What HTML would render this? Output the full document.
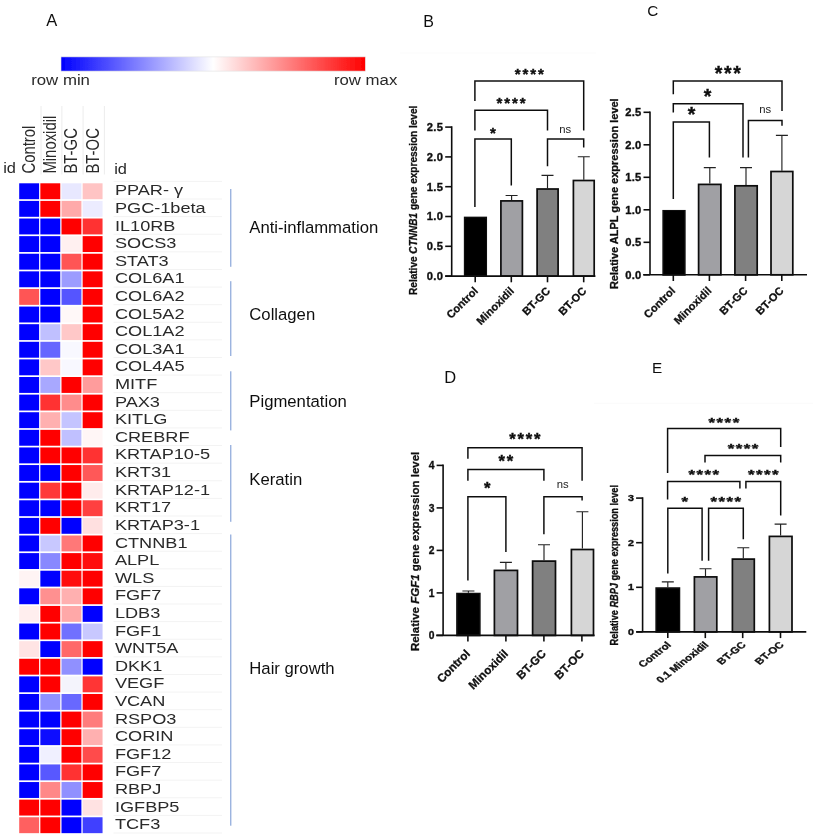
<!DOCTYPE html>
<html lang="en"><head><meta charset="utf-8"><title>Figure</title>
<style>
html,body{margin:0;padding:0;background:#fff;}
body{width:813px;height:839px;overflow:hidden;}
svg{display:block;font-family:"Liberation Sans", Arial, sans-serif;}
.hm{fill:#2a2a2a;font-size:14.5px;}
.cat{fill:#111;font-size:16.7px;}
.pl{fill:#111;font-size:16.5px;}
.tk{fill:#111;font-size:11.2px;font-weight:bold;text-anchor:end;stroke:#111;stroke-width:0.35px;letter-spacing:0.3px;}
.xl{fill:#111;font-size:11px;font-weight:bold;text-anchor:end;stroke:#111;stroke-width:0.3px;}
.yl{fill:#111;font-size:10.05px;font-weight:bold;stroke:#111;stroke-width:0.3px;}
.st{fill:#111;font-size:16px;font-weight:bold;text-anchor:middle;stroke:#111;stroke-width:0.4px;}
.ns{fill:#222;font-size:11.3px;text-anchor:middle;}
.ax{stroke:#111;stroke-width:1.6;fill:none;}
.br{stroke:#111;stroke-width:1.5;fill:none;}
.er{stroke:#222;stroke-width:1.15;fill:none;}
.bar{stroke:#0a0a0a;stroke-width:1.7;}
</style></head><body>
<svg width="813" height="839" viewBox="0 0 813 839">
<defs><linearGradient id="g" x1="0" x2="1" y1="0" y2="0"><stop offset="0" stop-color="#0000ff"/><stop offset="0.5" stop-color="#ffffff"/><stop offset="1" stop-color="#ff0000"/></linearGradient></defs>
<rect x="0" y="0" width="813" height="839" fill="#ffffff"/>
<filter id="soft" x="0" y="0" width="813" height="839" filterUnits="userSpaceOnUse"><feGaussianBlur stdDeviation="0.55"/></filter>
<g filter="url(#soft)">
<rect x="0" y="0" width="813" height="839" fill="#ffffff"/>
<text class="pl" x="46.3" y="26">A</text>
<rect x="61" y="56.9" width="304.3" height="14.2" fill="url(#g)" stroke="#e2e2e2" stroke-width="0.6"/>
<text class="hm" style="font-size:15px" transform="translate(31.2,84.6) scale(1.12,1)" x="0" y="0">row min</text>
<text class="hm" style="font-size:15px;text-anchor:end" transform="translate(397.3,84.6) scale(1.12,1)" x="0" y="0">row max</text>
<line x1="41.0" y1="106" x2="41.0" y2="174.5" stroke="#ececec" stroke-width="1"/>
<line x1="61.9" y1="106" x2="61.9" y2="174.5" stroke="#ececec" stroke-width="1"/>
<line x1="83.1" y1="106" x2="83.1" y2="174.5" stroke="#ececec" stroke-width="1"/>
<line x1="104.4" y1="106" x2="104.4" y2="174.5" stroke="#ececec" stroke-width="1"/>
<text class="hm" style="font-size:14.9px" transform="translate(35.2,173.6) rotate(-90) scale(1,1.24)" x="0" y="0">Control</text>
<text class="hm" style="font-size:14.9px" transform="translate(56.3,173.6) rotate(-90) scale(1,1.24)" x="0" y="0">Minoxidil</text>
<text class="hm" style="font-size:14.9px" transform="translate(77.4,173.6) rotate(-90) scale(1,1.24)" x="0" y="0">BT-GC</text>
<text class="hm" style="font-size:14.9px" transform="translate(98.5,173.6) rotate(-90) scale(1,1.24)" x="0" y="0">BT-OC</text>
<text class="hm" style="font-size:14.9px" transform="translate(3.2,172.9) scale(1.1,1)" x="0" y="0">id</text>
<text class="hm" style="font-size:14.9px" transform="translate(114.2,173.5) scale(1.1,1)" x="0" y="0">id</text>
<rect x="19.20" y="183.30" width="19.90" height="15.90" fill="#0000ff"/>
<rect x="40.35" y="183.30" width="19.90" height="15.90" fill="#ff0000"/>
<rect x="61.50" y="183.30" width="19.90" height="15.90" fill="#e8e8ff"/>
<rect x="82.65" y="183.30" width="19.90" height="15.90" fill="#ffc4c4"/>
<line x1="113.5" y1="181.40" x2="222" y2="181.40" stroke="#f3f3f3" stroke-width="1"/>
<text class="hm" transform="translate(114.9,195.30) scale(1.253,1)" x="0" y="0">PPAR- γ</text>
<rect x="19.20" y="200.91" width="19.90" height="15.90" fill="#0000ff"/>
<rect x="40.35" y="200.91" width="19.90" height="15.90" fill="#ff0000"/>
<rect x="61.50" y="200.91" width="19.90" height="15.90" fill="#ffaaaa"/>
<rect x="82.65" y="200.91" width="19.90" height="15.90" fill="#ececff"/>
<line x1="113.5" y1="199.01" x2="222" y2="199.01" stroke="#f3f3f3" stroke-width="1"/>
<text class="hm" transform="translate(114.9,212.91) scale(1.253,1)" x="0" y="0">PGC-1beta</text>
<rect x="19.20" y="218.52" width="19.90" height="15.90" fill="#0000ff"/>
<rect x="40.35" y="218.52" width="19.90" height="15.90" fill="#0000ff"/>
<rect x="61.50" y="218.52" width="19.90" height="15.90" fill="#ff0000"/>
<rect x="82.65" y="218.52" width="19.90" height="15.90" fill="#ff3333"/>
<line x1="113.5" y1="216.62" x2="222" y2="216.62" stroke="#f3f3f3" stroke-width="1"/>
<text class="hm" transform="translate(114.9,230.52) scale(1.253,1)" x="0" y="0">IL10RB</text>
<rect x="19.20" y="236.13" width="19.90" height="15.90" fill="#0000ff"/>
<rect x="40.35" y="236.13" width="19.90" height="15.90" fill="#0000ff"/>
<rect x="61.50" y="236.13" width="19.90" height="15.90" fill="#fff0f0"/>
<rect x="82.65" y="236.13" width="19.90" height="15.90" fill="#ff0000"/>
<line x1="113.5" y1="234.23" x2="222" y2="234.23" stroke="#f3f3f3" stroke-width="1"/>
<text class="hm" transform="translate(114.9,248.13) scale(1.253,1)" x="0" y="0">SOCS3</text>
<rect x="19.20" y="253.74" width="19.90" height="15.90" fill="#0000ff"/>
<rect x="40.35" y="253.74" width="19.90" height="15.90" fill="#0000ff"/>
<rect x="61.50" y="253.74" width="19.90" height="15.90" fill="#ff5555"/>
<rect x="82.65" y="253.74" width="19.90" height="15.90" fill="#ff0000"/>
<line x1="113.5" y1="251.84" x2="222" y2="251.84" stroke="#f3f3f3" stroke-width="1"/>
<text class="hm" transform="translate(114.9,265.74) scale(1.253,1)" x="0" y="0">STAT3</text>
<rect x="19.20" y="271.35" width="19.90" height="15.90" fill="#0000ff"/>
<rect x="40.35" y="271.35" width="19.90" height="15.90" fill="#0000ff"/>
<rect x="61.50" y="271.35" width="19.90" height="15.90" fill="#9c9cff"/>
<rect x="82.65" y="271.35" width="19.90" height="15.90" fill="#ff0000"/>
<line x1="113.5" y1="269.45" x2="222" y2="269.45" stroke="#f3f3f3" stroke-width="1"/>
<text class="hm" transform="translate(114.9,283.35) scale(1.253,1)" x="0" y="0">COL6A1</text>
<rect x="19.20" y="288.96" width="19.90" height="15.90" fill="#ff5555"/>
<rect x="40.35" y="288.96" width="19.90" height="15.90" fill="#0000ff"/>
<rect x="61.50" y="288.96" width="19.90" height="15.90" fill="#5555ff"/>
<rect x="82.65" y="288.96" width="19.90" height="15.90" fill="#ff0000"/>
<line x1="113.5" y1="287.06" x2="222" y2="287.06" stroke="#f3f3f3" stroke-width="1"/>
<text class="hm" transform="translate(114.9,300.96) scale(1.253,1)" x="0" y="0">COL6A2</text>
<rect x="19.20" y="306.57" width="19.90" height="15.90" fill="#0000ff"/>
<rect x="40.35" y="306.57" width="19.90" height="15.90" fill="#0000ff"/>
<rect x="61.50" y="306.57" width="19.90" height="15.90" fill="#fff8f8"/>
<rect x="82.65" y="306.57" width="19.90" height="15.90" fill="#ff0000"/>
<line x1="113.5" y1="304.67" x2="222" y2="304.67" stroke="#f3f3f3" stroke-width="1"/>
<text class="hm" transform="translate(114.9,318.57) scale(1.253,1)" x="0" y="0">COL5A2</text>
<rect x="19.20" y="324.18" width="19.90" height="15.90" fill="#0000ff"/>
<rect x="40.35" y="324.18" width="19.90" height="15.90" fill="#c0c0ff"/>
<rect x="61.50" y="324.18" width="19.90" height="15.90" fill="#ffc8c8"/>
<rect x="82.65" y="324.18" width="19.90" height="15.90" fill="#ff0000"/>
<line x1="113.5" y1="322.28" x2="222" y2="322.28" stroke="#f3f3f3" stroke-width="1"/>
<text class="hm" transform="translate(114.9,336.18) scale(1.253,1)" x="0" y="0">COL1A2</text>
<rect x="19.20" y="341.79" width="19.90" height="15.90" fill="#0000ff"/>
<rect x="40.35" y="341.79" width="19.90" height="15.90" fill="#6666ff"/>
<rect x="61.50" y="341.79" width="19.90" height="15.90" fill="#f8f8ff"/>
<rect x="82.65" y="341.79" width="19.90" height="15.90" fill="#ff0000"/>
<line x1="113.5" y1="339.89" x2="222" y2="339.89" stroke="#f3f3f3" stroke-width="1"/>
<text class="hm" transform="translate(114.9,353.79) scale(1.253,1)" x="0" y="0">COL3A1</text>
<rect x="19.20" y="359.40" width="19.90" height="15.90" fill="#0000ff"/>
<rect x="40.35" y="359.40" width="19.90" height="15.90" fill="#ffc8c8"/>
<rect x="61.50" y="359.40" width="19.90" height="15.90" fill="#f8f8ff"/>
<rect x="82.65" y="359.40" width="19.90" height="15.90" fill="#ff0000"/>
<line x1="113.5" y1="357.50" x2="222" y2="357.50" stroke="#f3f3f3" stroke-width="1"/>
<text class="hm" transform="translate(114.9,371.40) scale(1.253,1)" x="0" y="0">COL4A5</text>
<rect x="19.20" y="377.01" width="19.90" height="15.90" fill="#0000ff"/>
<rect x="40.35" y="377.01" width="19.90" height="15.90" fill="#a8a8ff"/>
<rect x="61.50" y="377.01" width="19.90" height="15.90" fill="#ff0000"/>
<rect x="82.65" y="377.01" width="19.90" height="15.90" fill="#ff9c9c"/>
<line x1="113.5" y1="375.11" x2="222" y2="375.11" stroke="#f3f3f3" stroke-width="1"/>
<text class="hm" transform="translate(114.9,389.01) scale(1.253,1)" x="0" y="0">MITF</text>
<rect x="19.20" y="394.62" width="19.90" height="15.90" fill="#0000ff"/>
<rect x="40.35" y="394.62" width="19.90" height="15.90" fill="#ff3333"/>
<rect x="61.50" y="394.62" width="19.90" height="15.90" fill="#ff8c8c"/>
<rect x="82.65" y="394.62" width="19.90" height="15.90" fill="#ff0000"/>
<line x1="113.5" y1="392.72" x2="222" y2="392.72" stroke="#f3f3f3" stroke-width="1"/>
<text class="hm" transform="translate(114.9,406.62) scale(1.253,1)" x="0" y="0">PAX3</text>
<rect x="19.20" y="412.23" width="19.90" height="15.90" fill="#0000ff"/>
<rect x="40.35" y="412.23" width="19.90" height="15.90" fill="#ffb0b0"/>
<rect x="61.50" y="412.23" width="19.90" height="15.90" fill="#c4c4ff"/>
<rect x="82.65" y="412.23" width="19.90" height="15.90" fill="#ff0000"/>
<line x1="113.5" y1="410.33" x2="222" y2="410.33" stroke="#f3f3f3" stroke-width="1"/>
<text class="hm" transform="translate(114.9,424.23) scale(1.253,1)" x="0" y="0">KITLG</text>
<rect x="19.20" y="429.84" width="19.90" height="15.90" fill="#0000ff"/>
<rect x="40.35" y="429.84" width="19.90" height="15.90" fill="#ff0000"/>
<rect x="61.50" y="429.84" width="19.90" height="15.90" fill="#c0c0ff"/>
<rect x="82.65" y="429.84" width="19.90" height="15.90" fill="#fff6f6"/>
<line x1="113.5" y1="427.94" x2="222" y2="427.94" stroke="#f3f3f3" stroke-width="1"/>
<text class="hm" transform="translate(114.9,441.84) scale(1.253,1)" x="0" y="0">CREBRF</text>
<rect x="19.20" y="447.45" width="19.90" height="15.90" fill="#0000ff"/>
<rect x="40.35" y="447.45" width="19.90" height="15.90" fill="#ff0000"/>
<rect x="61.50" y="447.45" width="19.90" height="15.90" fill="#ff0000"/>
<rect x="82.65" y="447.45" width="19.90" height="15.90" fill="#ff3333"/>
<line x1="113.5" y1="445.55" x2="222" y2="445.55" stroke="#f3f3f3" stroke-width="1"/>
<text class="hm" transform="translate(114.9,459.45) scale(1.253,1)" x="0" y="0">KRTAP10-5</text>
<rect x="19.20" y="465.06" width="19.90" height="15.90" fill="#0000ff"/>
<rect x="40.35" y="465.06" width="19.90" height="15.90" fill="#0000ff"/>
<rect x="61.50" y="465.06" width="19.90" height="15.90" fill="#ff0000"/>
<rect x="82.65" y="465.06" width="19.90" height="15.90" fill="#ff5858"/>
<line x1="113.5" y1="463.16" x2="222" y2="463.16" stroke="#f3f3f3" stroke-width="1"/>
<text class="hm" transform="translate(114.9,477.06) scale(1.253,1)" x="0" y="0">KRT31</text>
<rect x="19.20" y="482.67" width="19.90" height="15.90" fill="#0000ff"/>
<rect x="40.35" y="482.67" width="19.90" height="15.90" fill="#ff3838"/>
<rect x="61.50" y="482.67" width="19.90" height="15.90" fill="#ff0000"/>
<rect x="82.65" y="482.67" width="19.90" height="15.90" fill="#ffecec"/>
<line x1="113.5" y1="480.77" x2="222" y2="480.77" stroke="#f3f3f3" stroke-width="1"/>
<text class="hm" transform="translate(114.9,494.67) scale(1.253,1)" x="0" y="0">KRTAP12-1</text>
<rect x="19.20" y="500.28" width="19.90" height="15.90" fill="#0000ff"/>
<rect x="40.35" y="500.28" width="19.90" height="15.90" fill="#0000ff"/>
<rect x="61.50" y="500.28" width="19.90" height="15.90" fill="#ff0000"/>
<rect x="82.65" y="500.28" width="19.90" height="15.90" fill="#ff4040"/>
<line x1="113.5" y1="498.38" x2="222" y2="498.38" stroke="#f3f3f3" stroke-width="1"/>
<text class="hm" transform="translate(114.9,512.28) scale(1.253,1)" x="0" y="0">KRT17</text>
<rect x="19.20" y="517.89" width="19.90" height="15.90" fill="#0000ff"/>
<rect x="40.35" y="517.89" width="19.90" height="15.90" fill="#ff0000"/>
<rect x="61.50" y="517.89" width="19.90" height="15.90" fill="#0000ff"/>
<rect x="82.65" y="517.89" width="19.90" height="15.90" fill="#ffe0e0"/>
<line x1="113.5" y1="515.99" x2="222" y2="515.99" stroke="#f3f3f3" stroke-width="1"/>
<text class="hm" transform="translate(114.9,529.89) scale(1.253,1)" x="0" y="0">KRTAP3-1</text>
<rect x="19.20" y="535.50" width="19.90" height="15.90" fill="#0000ff"/>
<rect x="40.35" y="535.50" width="19.90" height="15.90" fill="#c8c8ff"/>
<rect x="61.50" y="535.50" width="19.90" height="15.90" fill="#ff7878"/>
<rect x="82.65" y="535.50" width="19.90" height="15.90" fill="#ff0000"/>
<line x1="113.5" y1="533.60" x2="222" y2="533.60" stroke="#f3f3f3" stroke-width="1"/>
<text class="hm" transform="translate(114.9,547.50) scale(1.253,1)" x="0" y="0">CTNNB1</text>
<rect x="19.20" y="553.11" width="19.90" height="15.90" fill="#0000ff"/>
<rect x="40.35" y="553.11" width="19.90" height="15.90" fill="#8888ff"/>
<rect x="61.50" y="553.11" width="19.90" height="15.90" fill="#ff0000"/>
<rect x="82.65" y="553.11" width="19.90" height="15.90" fill="#ff0808"/>
<line x1="113.5" y1="551.21" x2="222" y2="551.21" stroke="#f3f3f3" stroke-width="1"/>
<text class="hm" transform="translate(114.9,565.11) scale(1.253,1)" x="0" y="0">ALPL</text>
<rect x="19.20" y="570.72" width="19.90" height="15.90" fill="#fff4f4"/>
<rect x="40.35" y="570.72" width="19.90" height="15.90" fill="#0000ff"/>
<rect x="61.50" y="570.72" width="19.90" height="15.90" fill="#ff0808"/>
<rect x="82.65" y="570.72" width="19.90" height="15.90" fill="#ff0000"/>
<line x1="113.5" y1="568.82" x2="222" y2="568.82" stroke="#f3f3f3" stroke-width="1"/>
<text class="hm" transform="translate(114.9,582.72) scale(1.253,1)" x="0" y="0">WLS</text>
<rect x="19.20" y="588.33" width="19.90" height="15.90" fill="#0000ff"/>
<rect x="40.35" y="588.33" width="19.90" height="15.90" fill="#ff9090"/>
<rect x="61.50" y="588.33" width="19.90" height="15.90" fill="#ffb0b0"/>
<rect x="82.65" y="588.33" width="19.90" height="15.90" fill="#ff0000"/>
<line x1="113.5" y1="586.43" x2="222" y2="586.43" stroke="#f3f3f3" stroke-width="1"/>
<text class="hm" transform="translate(114.9,600.33) scale(1.253,1)" x="0" y="0">FGF7</text>
<rect x="19.20" y="605.94" width="19.90" height="15.90" fill="#ffeeee"/>
<rect x="40.35" y="605.94" width="19.90" height="15.90" fill="#ff0000"/>
<rect x="61.50" y="605.94" width="19.90" height="15.90" fill="#ffa8a8"/>
<rect x="82.65" y="605.94" width="19.90" height="15.90" fill="#0000ff"/>
<line x1="113.5" y1="604.04" x2="222" y2="604.04" stroke="#f3f3f3" stroke-width="1"/>
<text class="hm" transform="translate(114.9,617.94) scale(1.253,1)" x="0" y="0">LDB3</text>
<rect x="19.20" y="623.55" width="19.90" height="15.90" fill="#0000ff"/>
<rect x="40.35" y="623.55" width="19.90" height="15.90" fill="#ff0000"/>
<rect x="61.50" y="623.55" width="19.90" height="15.90" fill="#7070ff"/>
<rect x="82.65" y="623.55" width="19.90" height="15.90" fill="#c8c8ff"/>
<line x1="113.5" y1="621.65" x2="222" y2="621.65" stroke="#f3f3f3" stroke-width="1"/>
<text class="hm" transform="translate(114.9,635.55) scale(1.253,1)" x="0" y="0">FGF1</text>
<rect x="19.20" y="641.16" width="19.90" height="15.90" fill="#ffe4e4"/>
<rect x="40.35" y="641.16" width="19.90" height="15.90" fill="#0000ff"/>
<rect x="61.50" y="641.16" width="19.90" height="15.90" fill="#ff6868"/>
<rect x="82.65" y="641.16" width="19.90" height="15.90" fill="#ff0000"/>
<line x1="113.5" y1="639.26" x2="222" y2="639.26" stroke="#f3f3f3" stroke-width="1"/>
<text class="hm" transform="translate(114.9,653.16) scale(1.253,1)" x="0" y="0">WNT5A</text>
<rect x="19.20" y="658.77" width="19.90" height="15.90" fill="#ff0000"/>
<rect x="40.35" y="658.77" width="19.90" height="15.90" fill="#ff0000"/>
<rect x="61.50" y="658.77" width="19.90" height="15.90" fill="#9090ff"/>
<rect x="82.65" y="658.77" width="19.90" height="15.90" fill="#0000ff"/>
<line x1="113.5" y1="656.87" x2="222" y2="656.87" stroke="#f3f3f3" stroke-width="1"/>
<text class="hm" transform="translate(114.9,670.77) scale(1.253,1)" x="0" y="0">DKK1</text>
<rect x="19.20" y="676.38" width="19.90" height="15.90" fill="#0000ff"/>
<rect x="40.35" y="676.38" width="19.90" height="15.90" fill="#ff0000"/>
<rect x="61.50" y="676.38" width="19.90" height="15.90" fill="#f4f4fc"/>
<rect x="82.65" y="676.38" width="19.90" height="15.90" fill="#ff3434"/>
<line x1="113.5" y1="674.48" x2="222" y2="674.48" stroke="#f3f3f3" stroke-width="1"/>
<text class="hm" transform="translate(114.9,688.38) scale(1.253,1)" x="0" y="0">VEGF</text>
<rect x="19.20" y="693.99" width="19.90" height="15.90" fill="#0000ff"/>
<rect x="40.35" y="693.99" width="19.90" height="15.90" fill="#9090ff"/>
<rect x="61.50" y="693.99" width="19.90" height="15.90" fill="#6868ff"/>
<rect x="82.65" y="693.99" width="19.90" height="15.90" fill="#ff0000"/>
<line x1="113.5" y1="692.09" x2="222" y2="692.09" stroke="#f3f3f3" stroke-width="1"/>
<text class="hm" transform="translate(114.9,705.99) scale(1.253,1)" x="0" y="0">VCAN</text>
<rect x="19.20" y="711.60" width="19.90" height="15.90" fill="#0000ff"/>
<rect x="40.35" y="711.60" width="19.90" height="15.90" fill="#0000ff"/>
<rect x="61.50" y="711.60" width="19.90" height="15.90" fill="#ff0000"/>
<rect x="82.65" y="711.60" width="19.90" height="15.90" fill="#ff7c7c"/>
<line x1="113.5" y1="709.70" x2="222" y2="709.70" stroke="#f3f3f3" stroke-width="1"/>
<text class="hm" transform="translate(114.9,723.60) scale(1.253,1)" x="0" y="0">RSPO3</text>
<rect x="19.20" y="729.21" width="19.90" height="15.90" fill="#0000ff"/>
<rect x="40.35" y="729.21" width="19.90" height="15.90" fill="#0808ff"/>
<rect x="61.50" y="729.21" width="19.90" height="15.90" fill="#ff0000"/>
<rect x="82.65" y="729.21" width="19.90" height="15.90" fill="#ffb0b0"/>
<line x1="113.5" y1="727.31" x2="222" y2="727.31" stroke="#f3f3f3" stroke-width="1"/>
<text class="hm" transform="translate(114.9,741.21) scale(1.253,1)" x="0" y="0">CORIN</text>
<rect x="19.20" y="746.82" width="19.90" height="15.90" fill="#0000ff"/>
<rect x="40.35" y="746.82" width="19.90" height="15.90" fill="#f0f0ff"/>
<rect x="61.50" y="746.82" width="19.90" height="15.90" fill="#ff0000"/>
<rect x="82.65" y="746.82" width="19.90" height="15.90" fill="#ff4c4c"/>
<line x1="113.5" y1="744.92" x2="222" y2="744.92" stroke="#f3f3f3" stroke-width="1"/>
<text class="hm" transform="translate(114.9,758.82) scale(1.253,1)" x="0" y="0">FGF12</text>
<rect x="19.20" y="764.43" width="19.90" height="15.90" fill="#0000ff"/>
<rect x="40.35" y="764.43" width="19.90" height="15.90" fill="#5858ff"/>
<rect x="61.50" y="764.43" width="19.90" height="15.90" fill="#ff3030"/>
<rect x="82.65" y="764.43" width="19.90" height="15.90" fill="#ff0000"/>
<line x1="113.5" y1="762.53" x2="222" y2="762.53" stroke="#f3f3f3" stroke-width="1"/>
<text class="hm" transform="translate(114.9,776.43) scale(1.253,1)" x="0" y="0">FGF7</text>
<rect x="19.20" y="782.04" width="19.90" height="15.90" fill="#0000ff"/>
<rect x="40.35" y="782.04" width="19.90" height="15.90" fill="#ff8888"/>
<rect x="61.50" y="782.04" width="19.90" height="15.90" fill="#9090ff"/>
<rect x="82.65" y="782.04" width="19.90" height="15.90" fill="#ff0000"/>
<line x1="113.5" y1="780.14" x2="222" y2="780.14" stroke="#f3f3f3" stroke-width="1"/>
<text class="hm" transform="translate(114.9,794.04) scale(1.253,1)" x="0" y="0">RBPJ</text>
<rect x="19.20" y="799.65" width="19.90" height="15.90" fill="#ff0000"/>
<rect x="40.35" y="799.65" width="19.90" height="15.90" fill="#ff0000"/>
<rect x="61.50" y="799.65" width="19.90" height="15.90" fill="#0000ff"/>
<rect x="82.65" y="799.65" width="19.90" height="15.90" fill="#ffe2e2"/>
<line x1="113.5" y1="797.75" x2="222" y2="797.75" stroke="#f3f3f3" stroke-width="1"/>
<text class="hm" transform="translate(114.9,811.65) scale(1.253,1)" x="0" y="0">IGFBP5</text>
<rect x="19.20" y="817.26" width="19.90" height="15.90" fill="#ff6060"/>
<rect x="40.35" y="817.26" width="19.90" height="15.90" fill="#ff0000"/>
<rect x="61.50" y="817.26" width="19.90" height="15.90" fill="#0000ff"/>
<rect x="82.65" y="817.26" width="19.90" height="15.90" fill="#4040ff"/>
<line x1="113.5" y1="815.36" x2="222" y2="815.36" stroke="#f3f3f3" stroke-width="1"/>
<text class="hm" transform="translate(114.9,829.26) scale(1.253,1)" x="0" y="0">TCF3</text>
<line x1="113.5" y1="832.97" x2="222" y2="832.97" stroke="#f3f3f3" stroke-width="1"/>
<line x1="230.8" y1="189.0" x2="230.8" y2="266.8" stroke="#6a8fd0" stroke-width="0.95"/>
<text class="cat" x="249.3" y="233.0">Anti-inflammation</text>
<line x1="230.8" y1="281.2" x2="230.8" y2="356.0" stroke="#6a8fd0" stroke-width="0.95"/>
<text class="cat" x="249.3" y="319.8">Collagen</text>
<line x1="230.8" y1="371.3" x2="230.8" y2="430.4" stroke="#6a8fd0" stroke-width="0.95"/>
<text class="cat" x="249.3" y="406.6">Pigmentation</text>
<line x1="230.8" y1="445.0" x2="230.8" y2="521.8" stroke="#6a8fd0" stroke-width="0.95"/>
<text class="cat" x="249.3" y="484.6">Keratin</text>
<line x1="230.8" y1="534.5" x2="230.8" y2="825.7" stroke="#6a8fd0" stroke-width="0.95"/>
<text class="cat" x="249.3" y="674.4">Hair growth</text>
<line x1="594" y1="403.3" x2="813" y2="403.3" stroke="#fafafa" stroke-width="1"/>
<line x1="400" y1="53" x2="596" y2="53" stroke="#fbfbfb" stroke-width="1"/>
<text class="pl" style="font-size:16px" x="423.2" y="26.8">B</text>
<text class="yl" style="font-size:10.05px" text-anchor="middle" transform="translate(417.3,200.3) rotate(-90) scale(1.000,1.000)" x="0" y="0" xml:space="preserve"><tspan font-style="normal">Relative </tspan><tspan font-style="italic">CTNNB1</tspan><tspan font-style="normal"> gene expression level</tspan></text>
<rect class="bar" style="stroke-width:1.70" x="464.7" y="217.5" width="21.5" height="58.6" fill="#000000"/>
<path class="er" d="M511.6 200.1V195.5M505.6 195.5H517.6"/>
<rect class="bar" style="stroke-width:1.70" x="500.9" y="200.9" width="21.5" height="75.2" fill="#a0a0a4"/>
<path class="er" d="M547.5 188.2V175.3M541.5 175.3H553.5"/>
<rect class="bar" style="stroke-width:1.70" x="537.1" y="189.0" width="21.0" height="87.1" fill="#808080"/>
<path class="er" d="M583.8 179.7V156.7M577.8 156.7H589.8"/>
<rect class="bar" style="stroke-width:1.70" x="573.4" y="180.5" width="20.8" height="95.6" fill="#d6d6d6"/>
<path class="ax" d="M451.7 126.3V276.9M445.2 276.1H595.4"/>
<line class="ax" x1="445.2" y1="276.1" x2="451.7" y2="276.1"/>
<text class="tk" style="font-size:11.20px" transform="translate(443.3,280.0) scale(1.000,1)" x="0" y="0">0.0</text>
<line class="ax" x1="445.2" y1="246.3" x2="451.7" y2="246.3"/>
<text class="tk" style="font-size:11.20px" transform="translate(443.3,250.2) scale(1.000,1)" x="0" y="0">0.5</text>
<line class="ax" x1="445.2" y1="216.5" x2="451.7" y2="216.5"/>
<text class="tk" style="font-size:11.20px" transform="translate(443.3,220.4) scale(1.000,1)" x="0" y="0">1.0</text>
<line class="ax" x1="445.2" y1="186.7" x2="451.7" y2="186.7"/>
<text class="tk" style="font-size:11.20px" transform="translate(443.3,190.6) scale(1.000,1)" x="0" y="0">1.5</text>
<line class="ax" x1="445.2" y1="156.9" x2="451.7" y2="156.9"/>
<text class="tk" style="font-size:11.20px" transform="translate(443.3,160.8) scale(1.000,1)" x="0" y="0">2.0</text>
<line class="ax" x1="445.2" y1="127.1" x2="451.7" y2="127.1"/>
<text class="tk" style="font-size:11.20px" transform="translate(443.3,131.0) scale(1.000,1)" x="0" y="0">2.5</text>
<line class="ax" x1="475.2" y1="276.1" x2="475.2" y2="282.3"/>
<text class="xl" style="font-size:11.00px" transform="translate(478.6,291.7) scale(1.000,1.000) rotate(-45)" x="0" y="0">Control</text>
<line class="ax" x1="511.3" y1="276.1" x2="511.3" y2="282.3"/>
<text class="xl" style="font-size:11.00px" transform="translate(514.7,291.7) scale(1.000,1.000) rotate(-45)" x="0" y="0">Minoxidil</text>
<line class="ax" x1="547.5" y1="276.1" x2="547.5" y2="282.3"/>
<text class="xl" style="font-size:11.00px" transform="translate(550.9,291.7) scale(1.000,1.000) rotate(-45)" x="0" y="0">BT-GC</text>
<line class="ax" x1="583.7" y1="276.1" x2="583.7" y2="282.3"/>
<text class="xl" style="font-size:11.00px" transform="translate(587.1,291.7) scale(1.000,1.000) rotate(-45)" x="0" y="0">BT-OC</text>
<path class="br" d="M474.9 100.9V81.0H583.7V130.6"/>
<text class="st" style="font-size:15.0px;letter-spacing:1.90px" transform="translate(529.2,78.9) scale(1.000,1.000)" x="0.95" y="0">****</text>
<path class="br" d="M474.9 130.6V110.2H547.5V130.6"/>
<text class="st" style="font-size:15.0px;letter-spacing:1.90px" transform="translate(511.0,108.4) scale(1.000,1.000)" x="0.95" y="0">****</text>
<path class="br" d="M474.9 207.1V139.1H511.3V185.6"/>
<text class="st" style="font-size:15.0px;letter-spacing:1.90px" transform="translate(493.0,137.5) scale(1.000,1.000)" x="0.95" y="0">*</text>
<path class="br" d="M547.5 166.2V139.1H583.7V147.6"/>
<text class="ns" x="565.3" y="132.8">ns</text>
<text class="pl" style="font-size:15.3px" x="647.2" y="16.2">C</text>
<text class="yl" style="font-size:11.00px" text-anchor="middle" transform="translate(617.8,193.7) rotate(-90) scale(1.000,1.000)" x="0" y="0" xml:space="preserve"><tspan font-style="normal">Relative ALPL gene expression level</tspan></text>
<rect class="bar" style="stroke-width:1.70" x="663.2" y="210.8" width="21.6" height="64.1" fill="#000000"/>
<path class="er" d="M709.8 183.6V167.6M703.8 167.6H715.8"/>
<rect class="bar" style="stroke-width:1.70" x="698.6" y="184.4" width="22.3" height="90.4" fill="#a0a0a4"/>
<path class="er" d="M746.0 184.9V167.6M740.0 167.6H752.0"/>
<rect class="bar" style="stroke-width:1.70" x="734.9" y="185.8" width="22.3" height="89.1" fill="#808080"/>
<path class="er" d="M781.9 170.7V135.4M775.9 135.4H787.9"/>
<rect class="bar" style="stroke-width:1.70" x="771.0" y="171.5" width="21.8" height="103.3" fill="#d6d6d6"/>
<path class="ax" d="M650.0 111.5V275.6M643.2 274.8H807.0"/>
<line class="ax" x1="643.5" y1="274.8" x2="650.0" y2="274.8"/>
<text class="tk" style="font-size:11.20px" transform="translate(641.6,278.7) scale(1.000,1)" x="0" y="0">0.0</text>
<line class="ax" x1="643.5" y1="242.3" x2="650.0" y2="242.3"/>
<text class="tk" style="font-size:11.20px" transform="translate(641.6,246.2) scale(1.000,1)" x="0" y="0">0.5</text>
<line class="ax" x1="643.5" y1="209.8" x2="650.0" y2="209.8"/>
<text class="tk" style="font-size:11.20px" transform="translate(641.6,213.7) scale(1.000,1)" x="0" y="0">1.0</text>
<line class="ax" x1="643.5" y1="177.3" x2="650.0" y2="177.3"/>
<text class="tk" style="font-size:11.20px" transform="translate(641.6,181.2) scale(1.000,1)" x="0" y="0">1.5</text>
<line class="ax" x1="643.5" y1="144.8" x2="650.0" y2="144.8"/>
<text class="tk" style="font-size:11.20px" transform="translate(641.6,148.7) scale(1.000,1)" x="0" y="0">2.0</text>
<line class="ax" x1="643.5" y1="112.3" x2="650.0" y2="112.3"/>
<text class="tk" style="font-size:11.20px" transform="translate(641.6,116.2) scale(1.000,1)" x="0" y="0">2.5</text>
<line class="ax" x1="673.3" y1="274.8" x2="673.3" y2="281.0"/>
<text class="xl" style="font-size:11.00px" transform="translate(676.0,291.3) scale(1.000,1.000) rotate(-45)" x="0" y="0">Control</text>
<line class="ax" x1="709.4" y1="274.8" x2="709.4" y2="281.0"/>
<text class="xl" style="font-size:11.00px" transform="translate(712.1,291.3) scale(1.000,1.000) rotate(-45)" x="0" y="0">Minoxidil</text>
<line class="ax" x1="745.6" y1="274.8" x2="745.6" y2="281.0"/>
<text class="xl" style="font-size:11.00px" transform="translate(748.3,291.3) scale(1.000,1.000) rotate(-45)" x="0" y="0">BT-GC</text>
<line class="ax" x1="781.8" y1="274.8" x2="781.8" y2="281.0"/>
<text class="xl" style="font-size:11.00px" transform="translate(784.5,291.3) scale(1.000,1.000) rotate(-45)" x="0" y="0">BT-OC</text>
<path class="br" d="M673.3 94.3V80.9H782.0V111.1"/>
<text class="st" style="font-size:19.5px;letter-spacing:1.70px" transform="translate(727.8,80.1) scale(1.000,1.000)" x="0.85" y="0">***</text>
<path class="br" d="M673.3 112.4V103.8H743.0V157.5"/>
<text class="st" style="font-size:19.5px;letter-spacing:1.70px" transform="translate(707.6,103.3) scale(1.000,1.000)" x="0.85" y="0">*</text>
<path class="br" d="M673.3 199.1V121.9H709.4V157.5"/>
<text class="st" style="font-size:19.5px;letter-spacing:1.70px" transform="translate(691.6,121.4) scale(1.000,1.000)" x="0.85" y="0">*</text>
<path class="br" d="M748.4 157.5V120.6H782.0V125.8"/>
<text class="ns" x="765.2" y="112.6">ns</text>
<text class="pl" x="444.2" y="383.4">D</text>
<text class="yl" style="font-size:11.50px" text-anchor="middle" transform="translate(418.7,551.4) rotate(-90) scale(1.000,1.000)" x="0" y="0" xml:space="preserve"><tspan font-style="normal">Relative </tspan><tspan font-style="italic">FGF1</tspan><tspan font-style="normal"> gene expression level</tspan></text>
<path class="er" d="M468.4 592.8V591.0M462.4 591.0H474.4"/>
<rect class="bar" style="stroke-width:1.70" x="457.0" y="593.6" width="22.8" height="41.8" fill="#000000"/>
<path class="er" d="M505.9 569.5V562.3M499.9 562.3H511.9"/>
<rect class="bar" style="stroke-width:1.70" x="494.4" y="570.4" width="23.1" height="65.0" fill="#a0a0a4"/>
<path class="er" d="M544.0 560.2V544.7M538.0 544.7H550.0"/>
<rect class="bar" style="stroke-width:1.70" x="532.6" y="561.1" width="22.9" height="74.3" fill="#808080"/>
<path class="er" d="M582.4 548.6V511.7M576.4 511.7H588.4"/>
<rect class="bar" style="stroke-width:1.70" x="571.4" y="549.5" width="22.1" height="85.9" fill="#d6d6d6"/>
<path class="ax" d="M443.1 464.6V636.2M436.2 635.4H594.6"/>
<line class="ax" x1="436.6" y1="635.4" x2="443.1" y2="635.4"/>
<text class="tk" style="font-size:10.30px" transform="translate(434.7,639.0) scale(1.000,1)" x="0" y="0">0</text>
<line class="ax" x1="436.6" y1="592.9" x2="443.1" y2="592.9"/>
<text class="tk" style="font-size:10.30px" transform="translate(434.7,596.5) scale(1.000,1)" x="0" y="0">1</text>
<line class="ax" x1="436.6" y1="550.4" x2="443.1" y2="550.4"/>
<text class="tk" style="font-size:10.30px" transform="translate(434.7,554.0) scale(1.000,1)" x="0" y="0">2</text>
<line class="ax" x1="436.6" y1="507.9" x2="443.1" y2="507.9"/>
<text class="tk" style="font-size:10.30px" transform="translate(434.7,511.5) scale(1.000,1)" x="0" y="0">3</text>
<line class="ax" x1="436.6" y1="465.4" x2="443.1" y2="465.4"/>
<text class="tk" style="font-size:10.30px" transform="translate(434.7,469.0) scale(1.000,1)" x="0" y="0">4</text>
<line class="ax" x1="467.9" y1="635.4" x2="467.9" y2="641.6"/>
<text class="xl" style="font-size:11.60px" transform="translate(470.8,654.4) scale(1.000,1.000) rotate(-45)" x="0" y="0">Control</text>
<line class="ax" x1="505.9" y1="635.4" x2="505.9" y2="641.6"/>
<text class="xl" style="font-size:11.60px" transform="translate(508.8,654.4) scale(1.000,1.000) rotate(-45)" x="0" y="0">Minoxidil</text>
<line class="ax" x1="543.9" y1="635.4" x2="543.9" y2="641.6"/>
<text class="xl" style="font-size:11.60px" transform="translate(546.8,654.4) scale(1.000,1.000) rotate(-45)" x="0" y="0">BT-GC</text>
<line class="ax" x1="581.9" y1="635.4" x2="581.9" y2="641.6"/>
<text class="xl" style="font-size:11.60px" transform="translate(584.8,654.4) scale(1.000,1.000) rotate(-45)" x="0" y="0">BT-OC</text>
<path class="br" d="M467.9 458.8V447.7H582.1V480.7"/>
<text class="st" style="font-size:16.6px;letter-spacing:1.80px" transform="translate(524.8,445.1) scale(1.000,1.000)" x="0.90" y="0">****</text>
<path class="br" d="M467.9 480.7V469.6H543.9V480.7"/>
<text class="st" style="font-size:16.6px;letter-spacing:1.80px" transform="translate(505.9,466.6) scale(1.000,1.000)" x="0.90" y="0">**</text>
<path class="br" d="M467.9 580.4V496.8H505.9V552.0"/>
<text class="st" style="font-size:16.6px;letter-spacing:1.80px" transform="translate(487.1,493.7) scale(1.000,1.000)" x="0.90" y="0">*</text>
<path class="br" d="M543.9 534.2V496.8H582.1V500.6"/>
<text class="ns" x="562.7" y="488.2">ns</text>
<text class="pl" style="font-size:15.3px" x="652.0" y="373">E</text>
<text class="yl" style="font-size:9.20px" text-anchor="middle" transform="translate(617.8,565.2) rotate(-90) scale(1.000,1.270)" x="0" y="0" xml:space="preserve"><tspan font-style="normal">Relative </tspan><tspan font-style="italic">RBPJ</tspan><tspan font-style="normal"> gene expression level</tspan></text>
<path class="er" d="M667.8 587.3V581.8M661.8 581.8H673.8"/>
<rect class="bar" style="stroke-width:1.70" x="656.2" y="588.1" width="23.2" height="43.8" fill="#000000"/>
<path class="er" d="M705.5 576.0V568.7M699.5 568.7H711.5"/>
<rect class="bar" style="stroke-width:1.70" x="694.4" y="576.9" width="22.4" height="55.0" fill="#a0a0a4"/>
<path class="er" d="M743.3 558.2V547.7M737.3 547.7H749.3"/>
<rect class="bar" style="stroke-width:1.70" x="732.4" y="559.1" width="21.9" height="72.8" fill="#808080"/>
<path class="er" d="M780.6 535.5V524.1M774.6 524.1H786.6"/>
<rect class="bar" style="stroke-width:1.70" x="769.4" y="536.4" width="22.6" height="95.5" fill="#d6d6d6"/>
<path class="ax" d="M642.6 497.3V632.7M636.3 631.9H806.3"/>
<line class="ax" x1="636.1" y1="631.9" x2="642.6" y2="631.9"/>
<text class="tk" style="font-size:8.40px" transform="translate(634.2,634.8) scale(1.270,1)" x="0" y="0">0</text>
<line class="ax" x1="636.1" y1="587.3" x2="642.6" y2="587.3"/>
<text class="tk" style="font-size:8.40px" transform="translate(634.2,590.2) scale(1.270,1)" x="0" y="0">1</text>
<line class="ax" x1="636.1" y1="542.7" x2="642.6" y2="542.7"/>
<text class="tk" style="font-size:8.40px" transform="translate(634.2,545.6) scale(1.270,1)" x="0" y="0">2</text>
<line class="ax" x1="636.1" y1="498.1" x2="642.6" y2="498.1"/>
<text class="tk" style="font-size:8.40px" transform="translate(634.2,501.0) scale(1.270,1)" x="0" y="0">3</text>
<line class="ax" x1="667.8" y1="631.9" x2="667.8" y2="638.1"/>
<text class="xl" style="font-size:9.00px" transform="translate(671.8,645.4) scale(1.270,1.000) rotate(-45)" x="0" y="0">Control</text>
<line class="ax" x1="705.3" y1="631.9" x2="705.3" y2="638.1"/>
<text class="xl" style="font-size:9.00px" transform="translate(709.3,645.4) scale(1.270,1.000) rotate(-45)" x="0" y="0">0.1 Minoxidil</text>
<line class="ax" x1="742.7" y1="631.9" x2="742.7" y2="638.1"/>
<text class="xl" style="font-size:9.00px" transform="translate(746.7,645.4) scale(1.270,1.000) rotate(-45)" x="0" y="0">BT-GC</text>
<line class="ax" x1="780.5" y1="631.9" x2="780.5" y2="638.1"/>
<text class="xl" style="font-size:9.00px" transform="translate(784.5,645.4) scale(1.270,1.000) rotate(-45)" x="0" y="0">BT-OC</text>
<path class="br" d="M667.6 472.9V428.5H780.7V447.1"/>
<text class="st" style="font-size:12.9px;letter-spacing:1.10px" transform="translate(723.9,427.2) scale(1.310,1.000)" x="0.55" y="0">****</text>
<path class="br" d="M705.0 462.6V455.6H780.7V462.6"/>
<text class="st" style="font-size:12.9px;letter-spacing:1.10px" transform="translate(743.0,453.0) scale(1.310,1.000)" x="0.55" y="0">****</text>
<path class="br" d="M667.6 499.5V481.4H739.9V488.6"/>
<text class="st" style="font-size:12.9px;letter-spacing:1.10px" transform="translate(703.7,479.4) scale(1.310,1.000)" x="0.55" y="0">****</text>
<path class="br" d="M745.9 488.6V481.4H780.7V515.5"/>
<text class="st" style="font-size:12.9px;letter-spacing:1.10px" transform="translate(763.2,479.4) scale(1.310,1.000)" x="0.55" y="0">****</text>
<path class="br" d="M667.8 573.4V508.3H702.1V560.8"/>
<text class="st" style="font-size:12.9px;letter-spacing:1.10px" transform="translate(684.9,506.0) scale(1.310,1.000)" x="0.55" y="0">*</text>
<path class="br" d="M708.6 560.8V508.3H743.3V539.3"/>
<text class="st" style="font-size:12.9px;letter-spacing:1.10px" transform="translate(725.7,506.0) scale(1.310,1.000)" x="0.55" y="0">****</text>
</g>
</svg></body></html>
